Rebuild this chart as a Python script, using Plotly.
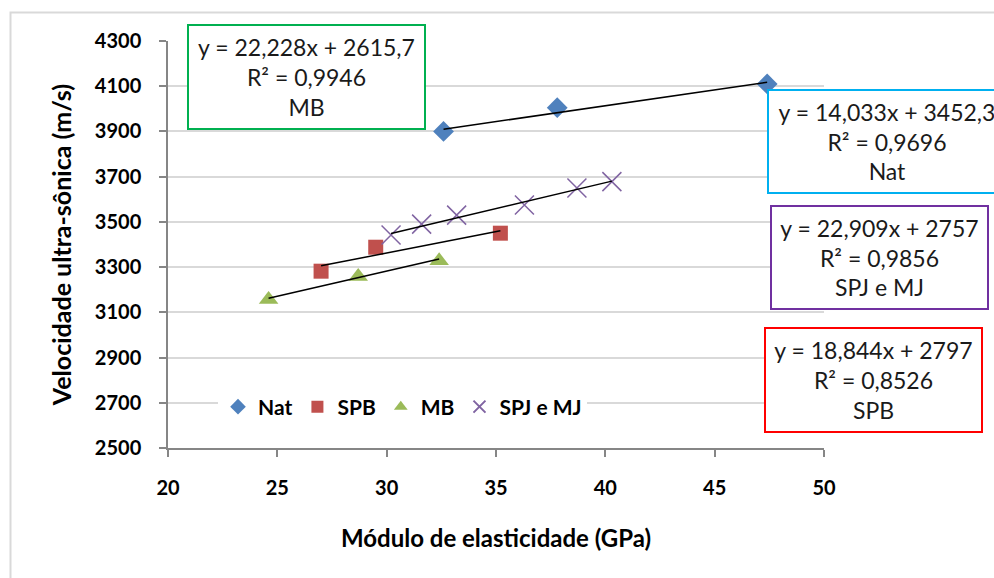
import plotly.graph_objects as go

# Measured data: modulus of elasticity (GPa) vs ultrasonic velocity (m/s)
nat_x = [32.6, 37.8, 47.4]
nat_y = [3900, 4005, 4110]

spb_x = [27.0, 29.5, 35.2]
spb_y = [3282, 3388, 3450]

mb_x = [24.6, 28.7, 32.4]
mb_y = [3157, 3258, 3328]

spj_x = [30.2, 31.6, 33.2, 36.3, 38.7, 40.3]
spj_y = [3442, 3490, 3530, 3575, 3650, 3678]

# Linear fit coefficients (slope, intercept, R²) per group
nat_fit = (14.033, 3452.3, "0,9696")
spb_fit = (18.844, 2797.0, "0,8526")
mb_fit = (22.228, 2615.7, "0,9946")
spj_fit = (22.909, 2757.0, "0,9856")
nat_eq = "y = 14,033x + 3452,3"
spb_eq = "y = 18,844x + 2797"
mb_eq = "y = 22,228x + 2615,7"
spj_eq = "y = 22,909x + 2757"

x_ticks = [20, 25, 30, 35, 40, 45, 50]
y_ticks = [2500, 2700, 2900, 3100, 3300, 3500, 3700, 3900, 4100, 4300]

FONT = "Lato"
W, H = 994, 578
L, R, T, B = 168, 824, 41, 448  # plot area in pixels


def px(xp):
    return (xp - L) / (R - L)


def py(yp):
    return (B - yp) / (B - T)


fig = go.Figure()

series = [
    ("Nat", nat_x, nat_y, nat_fit, dict(symbol="diamond", size=16, color="#4F81BD")),
    ("SPB", spb_x, spb_y, spb_fit, dict(symbol="square", size=15, color="#C0504D")),
    ("MB", mb_x, mb_y, mb_fit, dict(symbol="triangle-up", size=17, color="#9BBB59")),
    ("SPJ e MJ", spj_x, spj_y, spj_fit,
     dict(symbol="x-thin", size=19, color="#8064A2", line=dict(color="#8064A2", width=1.5))),
]

for name, xs, ys, fit, marker in series:
    fig.add_trace(go.Scatter(x=xs, y=ys, mode="markers", name=name, marker=marker))

# trend lines from the fitted equations, spanning each group's x range
for name, xs, ys, fit, marker in series:
    a, b, _ = fit
    x0, x1 = min(xs), max(xs)
    fig.add_trace(go.Scatter(x=[x0, x1], y=[a * x0 + b, a * x1 + b], mode="lines",
                             line=dict(color="black", width=1.5), showlegend=False,
                             hoverinfo="skip"))

# equation boxes
boxes = [
    (mb_eq, mb_fit[2], "MB", "#00B050", 306.5, 77, 239, 106),
    (nat_eq, nat_fit[2], "Nat", "#00B0F0", 887, 141.5, 240, 105),
    (spj_eq, spj_fit[2], "SPJ e MJ", "#7030A0", 879.5, 257.5, 219, 105),
    (spb_eq, spb_fit[2], "SPB", "#FF0000", 873.5, 380, 219, 106),
]
for eq, r2, lab, col, cx, cy, bw, bh in boxes:
    fig.add_annotation(
        xref="paper", yref="paper", x=px(cx), y=py(cy), xanchor="center", yanchor="middle",
        text=f"{eq}<br>R² = {r2}<br>{lab}", showarrow=False, align="center",
        font=dict(family=FONT, size=23, color="#1a1a1a"),
        bordercolor=col, borderwidth=2, borderpad=0, bgcolor="white",
        width=bw - 4, height=bh - 4,
    )

# outer chart frame
fig.add_shape(type="rect", xref="paper", yref="paper",
              x0=px(10.5), y0=py(700), x1=px(1200), y1=py(12.5),
              line=dict(color="#D9D9D9", width=2), layer="below")

axis_common = dict(
    showline=True, linecolor="#868686", linewidth=1.5,
    ticks="outside", ticklen=7, tickcolor="#868686", tickwidth=1.5,
    tickfont=dict(family=FONT, size=20, color="black", weight="bold"),
    gridcolor="#D9D9D9", gridwidth=1.5, zeroline=False,
)

fig.update_xaxes(range=[20, 50], tickvals=x_ticks, showgrid=False,
                 title=dict(text="Módulo de elasticidade (GPa)", standoff=32,
                            font=dict(family=FONT, size=24, color="black", weight="bold")),
                 ticklabelstandoff=14, **axis_common)
fig.update_yaxes(range=[2500, 4300], tickvals=y_ticks, showgrid=True,
                 title=dict(text="Velocidade ultra-sônica (m/s)", standoff=16,
                            font=dict(family=FONT, size=25, color="black", weight="bold")),
                 ticklabelstandoff=14, **axis_common)

fig.update_layout(
    width=W, height=H,
    margin=dict(l=L, r=W - R, t=T, b=H - B),
    paper_bgcolor="white", plot_bgcolor="white",
    showlegend=True,
    legend=dict(orientation="h", x=px(218), y=py(407), xanchor="left", yanchor="middle",
                bgcolor="white", itemsizing="constant", itemwidth=30,
                font=dict(family=FONT, size=21, color="black", weight="bold")),
)

fig.write_html("out.html")
